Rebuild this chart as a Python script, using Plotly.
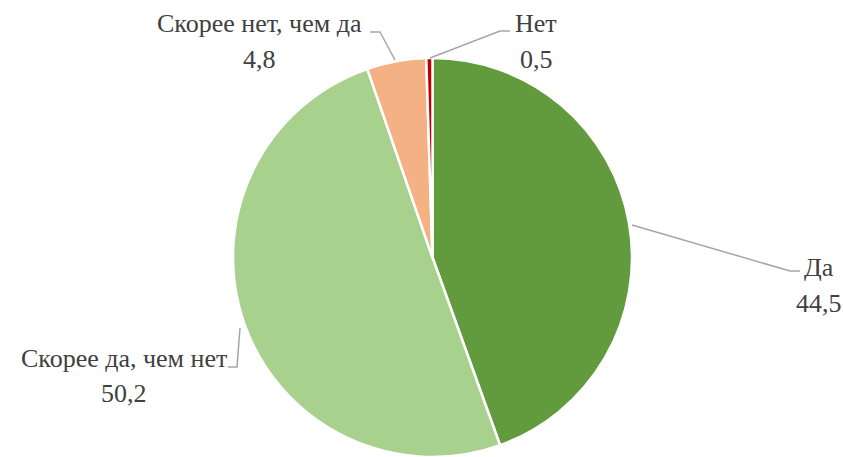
import plotly.graph_objects as go

W, H = 843, 457

categories = ['Да', 'Скорее да, чем нет', 'Скорее нет, чем да', 'Нет']
values = [44.5, 50.2, 4.8, 0.5]
value_labels = ['44,5', '50,2', '4,8', '0,5']
colors = ['#629A3E', '#A9D18E', '#F4B183', '#C00000']


def px(x):
    return x / W


def py(y):
    return (H - y) / H


fig = go.Figure(go.Pie(
    labels=categories,
    values=values,
    sort=False,
    direction='clockwise',
    rotation=0,
    textinfo='none',
    hoverinfo='label+value',
    marker=dict(colors=colors, line=dict(color='white', width=2.5)),
    domain=dict(x=[22 / W, 1], y=[0, 399 / H]),
    showlegend=False,
))

# label centres (name line, value line) and leader lines, in pixels
label_pos = [(819, 267, 303), (124, 358, 393), (259, 23, 59), (536, 23, 59)]
leaders = [
    [(632, 225), (790, 271), (800, 271)],
    [(240, 328), (237, 367), (228, 367)],
    [(395, 60), (380, 32), (370, 32)],
    [(430, 58), (500, 31), (510, 31)],
]

font = dict(family='Liberation Serif, DejaVu Serif, serif', size=26, color='#404040')
annotations = []
for name, val, (cx, y1, y2) in zip(categories, value_labels, label_pos):
    annotations.append(dict(x=px(cx), y=py(y1), xref='paper', yref='paper', text=name,
                            showarrow=False, font=font, xanchor='center', yanchor='middle'))
    annotations.append(dict(x=px(cx), y=py(y2), xref='paper', yref='paper', text=val,
                            showarrow=False, font=font, xanchor='center', yanchor='middle'))

shapes = []
for pts in leaders:
    path = 'M ' + ' L '.join(f'{px(x):.5f},{py(y):.5f}' for x, y in pts)
    shapes.append(dict(type='path', path=path, xref='paper', yref='paper',
                       line=dict(color='#A6A6A6', width=1.5)))

fig.update_layout(
    width=W, height=H,
    margin=dict(l=0, r=0, t=0, b=0),
    paper_bgcolor='white',
    annotations=annotations,
    shapes=shapes,
)

fig.write_html('out.html', config={'displayModeBar': False},
               post_script="document.body.style.margin='0';")
